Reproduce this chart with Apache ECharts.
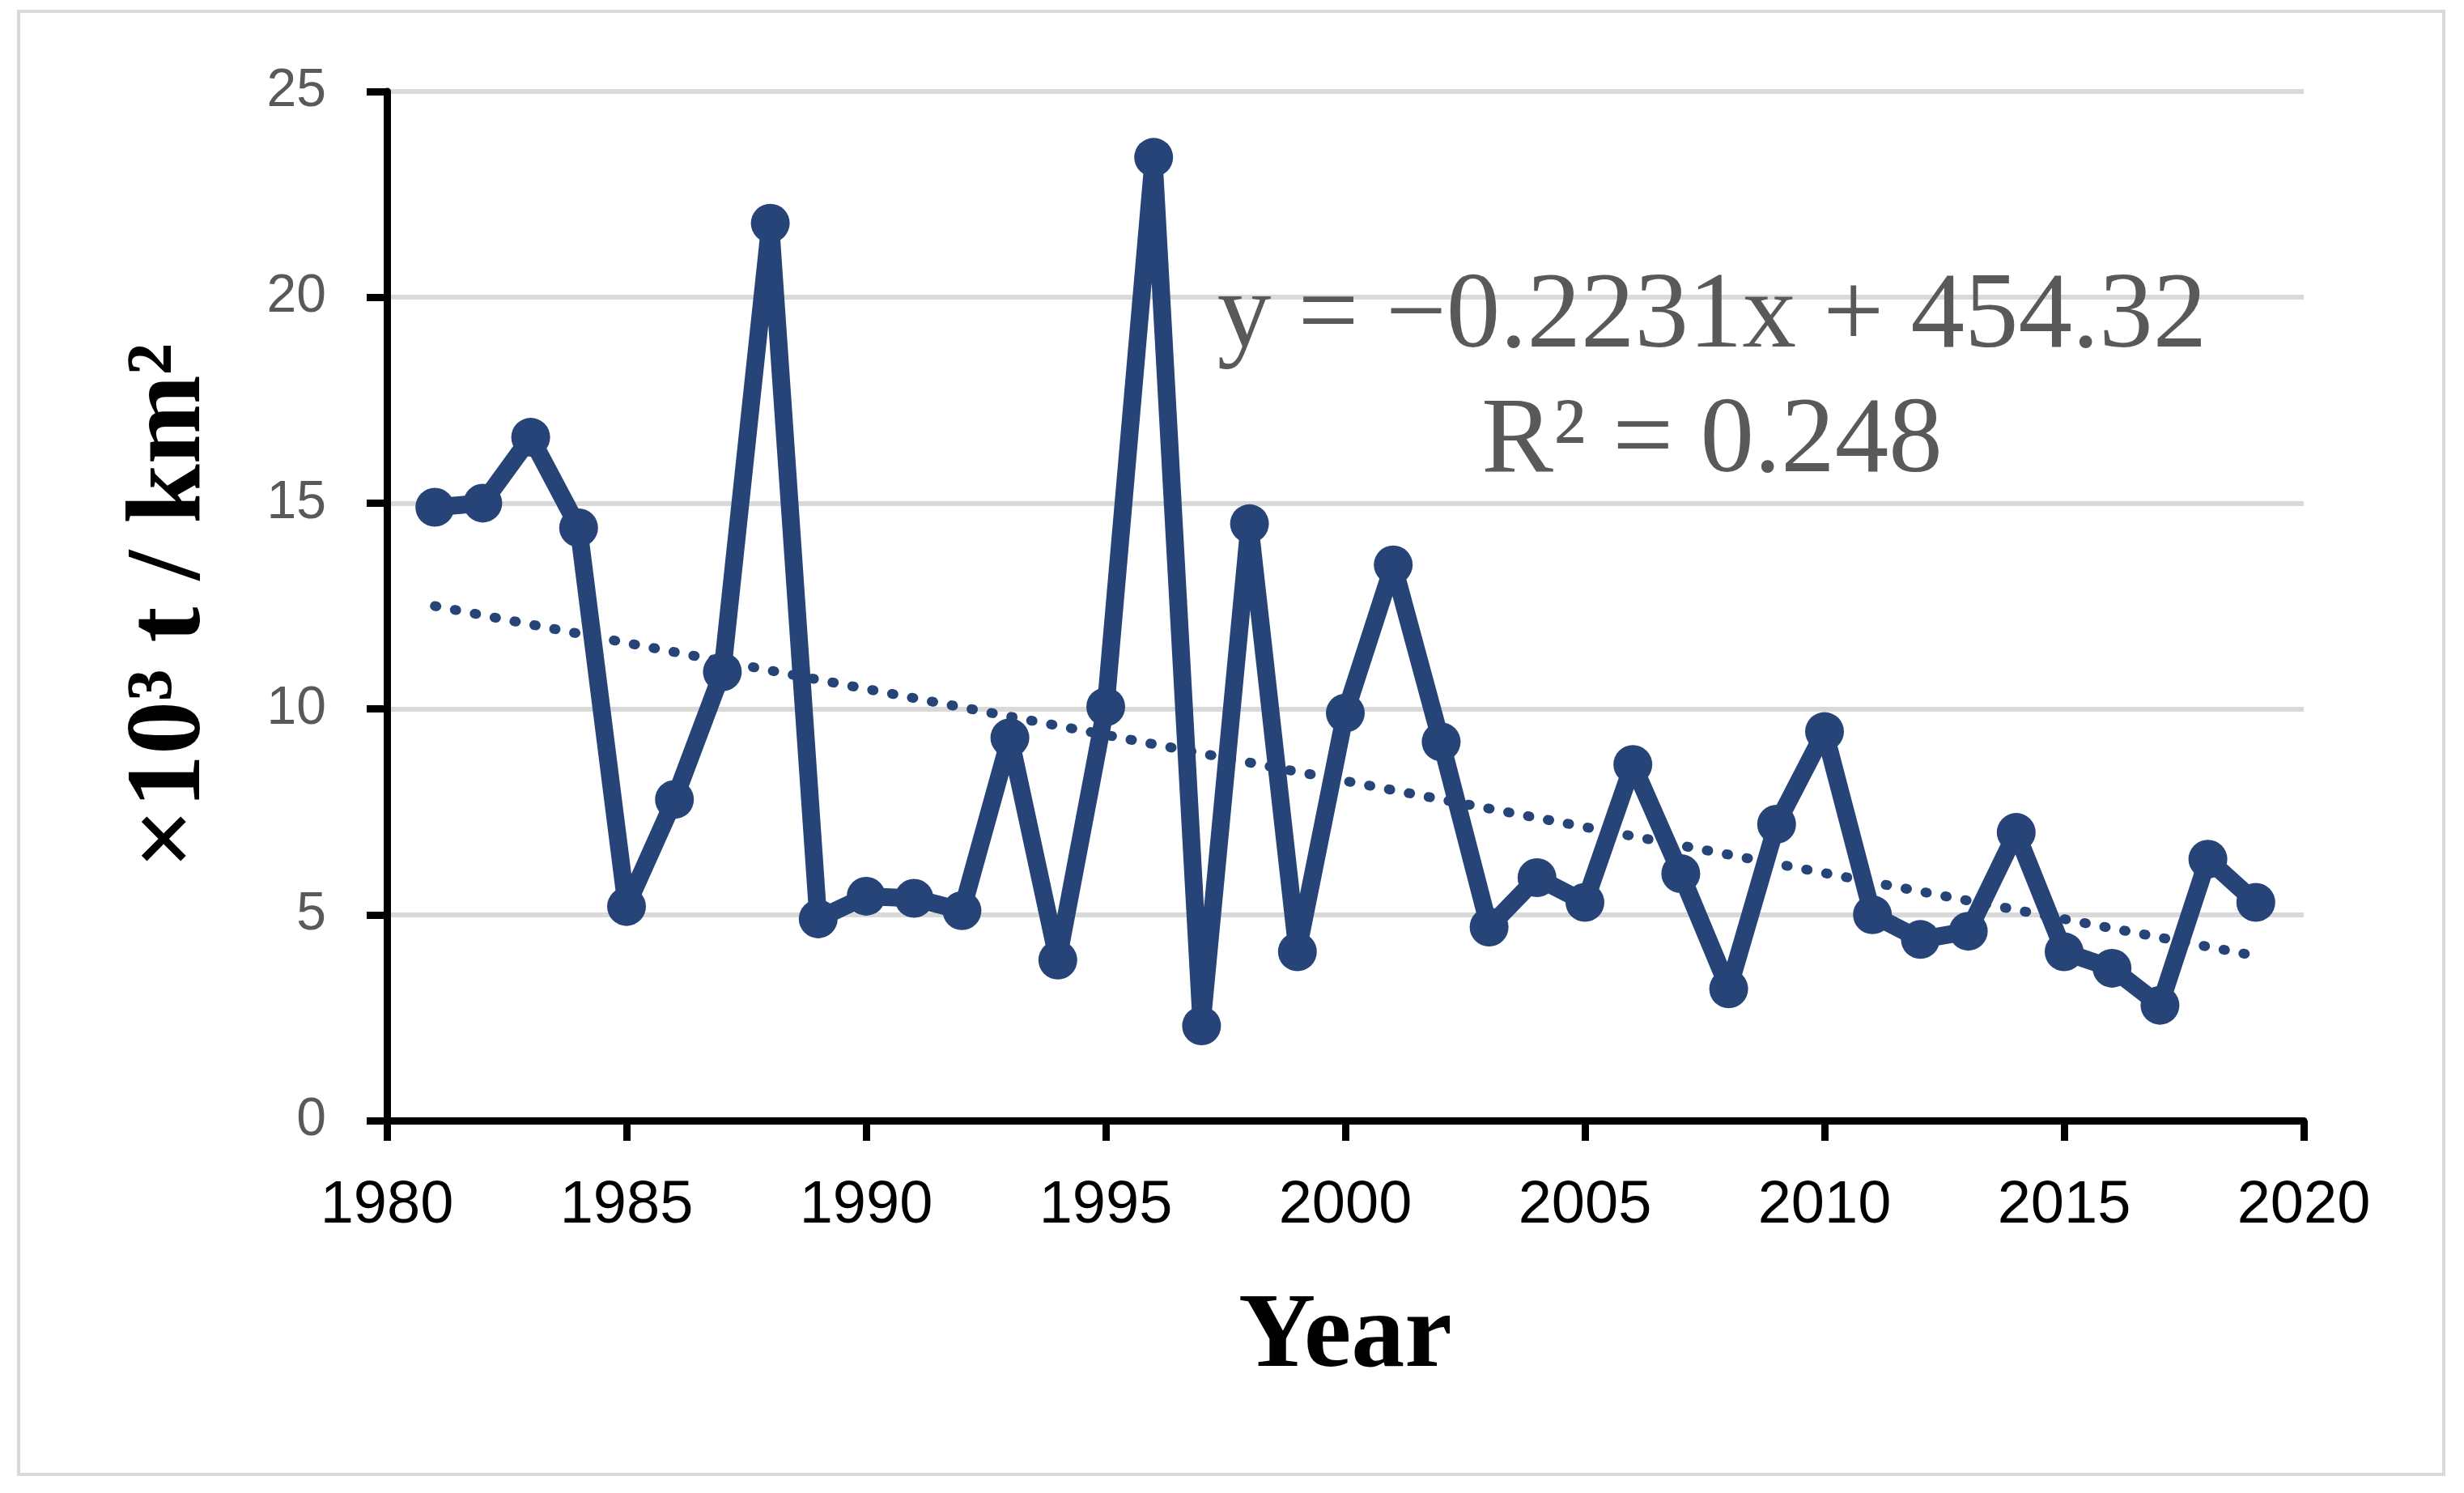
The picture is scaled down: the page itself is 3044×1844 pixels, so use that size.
<!DOCTYPE html>
<html>
<head>
<meta charset="utf-8">
<style>
  html, body { margin: 0; padding: 0; background: #ffffff; }
  #chart { width: 3044px; height: 1844px; }
</style>
<script src="https://cdn.jsdelivr.net/npm/echarts@6/dist/echarts.min.js"></script>
</head>
<body>
<div id="chart"></div>
<script>
// ---- Data ----
const years = [1981, 1982, 1983, 1984, 1985, 1986, 1987, 1988, 1989, 1990,
               1991, 1992, 1993, 1994, 1995, 1996, 1997, 1998, 1999, 2000,
               2001, 2002, 2003, 2004, 2005, 2006, 2007, 2008, 2009, 2010,
               2011, 2012, 2013, 2014, 2015, 2016, 2017, 2018, 2019];
const values = [14.9, 15.0, 16.6, 14.4, 5.2, 7.8, 10.9, 21.8, 4.9, 5.45,
                5.4, 5.1, 9.3, 3.9, 10.05, 23.4, 2.3, 14.5, 4.1, 9.9,
                13.5, 9.2, 4.7, 5.9, 5.3, 8.65, 6.0, 3.2, 7.2, 9.45,
                5.0, 4.4, 4.6, 7.0, 4.1, 3.7, 2.8, 6.35, 5.3];
// Linear trend line end points (as drawn in the reference)
const trendYears = [1981, 2019];
const trendValues = [12.5, 4.0];
const equationLines = ['y = \u22120.2231x + 454.32', 'R\u00B2 = 0.248'];
const xTitle = 'Year';
const yTitle = '\u00D710\u00B3 t / km\u00B2';

const mainData = years.map((y, i) => [y, values[i]]);
const trendData = trendYears.map((y, i) => [y, trendValues[i]]);

const chart = echarts.init(document.getElementById('chart'), null, { renderer: 'canvas' });
const blue = '#264478';

chart.setOption({
  animation: false,
  backgroundColor: '#ffffff',
  grid: { left: 478, right: 198, top: 113, bottom: 460, containLabel: false },
  xAxis: {
    type: 'value',
    min: 1980, max: 2020, interval: 5,
    name: xTitle,
    nameLocation: 'middle',
    nameGap: 203,
    nameTextStyle: { fontFamily: 'Liberation Serif', fontWeight: 'bold', fontSize: 132, color: '#000000' },
    axisLine: { show: true, onZero: false, lineStyle: { color: '#000000', width: 9 } },
    axisTick: { show: true, inside: false, length: 25, lineStyle: { color: '#000000', width: 9 } },
    axisLabel: {
      margin: 69, fontFamily: 'Liberation Sans', fontSize: 74, color: '#000000',
      formatter: (v) => String(v)
    },
    splitLine: { show: false }
  },
  yAxis: {
    type: 'value',
    min: 0, max: 25, interval: 5,
    name: yTitle,
    nameLocation: 'middle',
    nameRotate: 90,
    nameGap: 200,
    nameTextStyle: { fontFamily: 'Liberation Serif', fontWeight: 'bold', fontSize: 132, color: '#000000' },
    axisLine: { show: true, lineStyle: { color: '#000000', width: 9 } },
    axisTick: { show: true, inside: false, length: 25, lineStyle: { color: '#000000', width: 9 } },
    axisLabel: { margin: 75, fontFamily: 'Liberation Sans', fontSize: 66, color: '#595959' },
    splitLine: { show: true, lineStyle: { color: '#d9d9d9', width: 6 } }
  },
  series: [
    {
      type: 'line',
      data: mainData,
      symbol: 'circle',
      symbolSize: 48,
      showSymbol: true,
      lineStyle: { color: blue, width: 22 },
      itemStyle: { color: blue, borderWidth: 0 },
      z: 3
    },
    {
      type: 'line',
      data: trendData,
      symbol: 'none',
      lineStyle: { color: blue, width: 12, type: [2, 23], cap: 'round' },
      z: 4
    }
  ],
  graphic: [
    {
      type: 'rect',
      shape: { x: 23, y: 14, width: 2996, height: 1807 },
      style: { fill: 'none', stroke: '#d9d9d9', lineWidth: 4 },
      silent: true
    },
    {
      type: 'text',
      x: 2115, y: 393,
      style: {
        text: equationLines[0],
        fontFamily: 'Liberation Serif', fontSize: 133,
        fill: '#595959', align: 'center', verticalAlign: 'middle'
      },
      z: 10
    },
    {
      type: 'text',
      x: 2115, y: 547,
      style: {
        text: equationLines[1],
        fontFamily: 'Liberation Serif', fontSize: 133,
        fill: '#595959', align: 'center', verticalAlign: 'middle'
      },
      z: 10
    }
  ]
});
</script>
</body>
</html>
